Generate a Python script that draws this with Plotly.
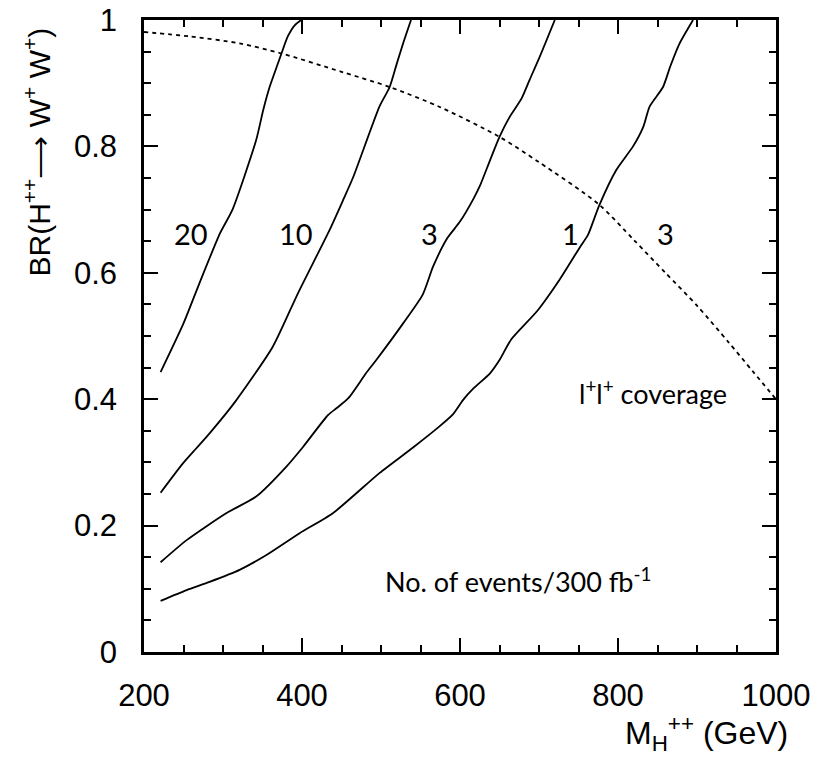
import plotly.graph_objects as go

# ---- data ----
m20 = [221, 250, 270, 296, 312, 342, 351, 359, 368, 374, 382, 391, 399]
br20 = [0.443, 0.52, 0.583, 0.662, 0.70, 0.81, 0.858, 0.894, 0.926, 0.947, 0.974, 0.992, 1.0]

m10 = [221, 249, 266, 283, 316, 363, 395, 435, 452, 465, 498, 511, 520, 528, 538]
br10 = [0.252, 0.298, 0.322, 0.346, 0.397, 0.483, 0.568, 0.668, 0.715, 0.752, 0.863, 0.894, 0.931, 0.963, 1.0]

m3 = [221, 254, 304, 342, 380, 401, 433, 444, 459, 481, 494, 528, 553, 566, 584, 600, 617, 625,
      638, 650, 663, 678, 688, 701, 720]
br3 = [0.142, 0.177, 0.2195, 0.246, 0.293, 0.324, 0.375, 0.386, 0.402, 0.441, 0.462, 0.52, 0.566, 0.61,
       0.655, 0.681, 0.717, 0.737, 0.778, 0.815, 0.847, 0.876, 0.905, 0.942, 1.0]

m1 = [221, 254, 283, 321, 355, 397, 439, 498, 541, 574, 591, 604, 617, 638, 650, 665, 698, 726, 752,
      762, 776, 798, 819, 832, 840, 857, 866, 878, 895]
br1 = [0.081, 0.098, 0.111, 0.13, 0.1535, 0.188, 0.2195, 0.283, 0.324, 0.357, 0.376, 0.399, 0.417,
       0.441, 0.462, 0.495, 0.54, 0.589, 0.641, 0.66, 0.706, 0.763, 0.80, 0.831, 0.863, 0.894, 0.926,
       0.963, 1.0]

m_cov = [200, 258, 321, 374, 450, 511, 575, 650, 700, 776, 820, 860, 900, 940, 970, 1000]
br_cov = [0.981, 0.974, 0.963, 0.947, 0.918, 0.894, 0.862, 0.815, 0.775, 0.708, 0.652, 0.600, 0.548,
          0.490, 0.445, 0.40]

contour_labels = ["20", "10", "3", "1", "3"]
label_m = [260, 393, 561, 740, 860]
label_br = [0.6625] * 5

fig = go.Figure()
for xs, ys in [(m20, br20), (m10, br10), (m3, br3), (m1, br1)]:
    fig.add_trace(go.Scatter(x=xs, y=ys, mode="lines",
                             line=dict(color="black", width=1.8, shape="spline", smoothing=0.6),
                             showlegend=False, hoverinfo="skip"))
fig.add_trace(go.Scatter(x=m_cov, y=br_cov, mode="lines",
                         line=dict(color="black", width=1.8, dash="4px,4px", shape="spline", smoothing=0.8),
                         showlegend=False, hoverinfo="skip"))

ann_font = dict(family="Lato, Noto Sans, sans-serif", size=29, color="black")
for t, xv, yv in zip(contour_labels, label_m, label_br):
    fig.add_annotation(x=xv, y=yv, text=t, showarrow=False, font=ann_font,
                       xanchor="center", yanchor="middle")

fig.add_annotation(x=844, y=0.412, text="l<sup>+</sup>l<sup>+</sup> coverage", showarrow=False,
                   font=dict(ann_font, size=27), xanchor="center", yanchor="middle")
fig.add_annotation(x=674, y=0.114, text="No. of events/300 fb<sup>-1</sup>", showarrow=False,
                   font=dict(ann_font, size=27), xanchor="center", yanchor="middle")

# axis titles
title_font = dict(family="Liberation Sans, Arial, sans-serif", size=32, color="black")
fig.add_annotation(xref="paper", yref="paper", x=(790 - 144) / 632, y=-(733 - 652) / 632,
                   text="M<sub>H</sub><sup>++</sup> (GeV)", showarrow=False, font=title_font,
                   xanchor="right", yanchor="middle")
fig.add_annotation(xref="paper", yref="paper", x=(37 - 144) / 632, y=(652 - 26) / 632,
                   text="BR(H<sup>++</sup>\u27f6 W<sup>+</sup> W<sup>+</sup>)", showarrow=False,
                   font=dict(title_font, size=30), textangle=-90, xanchor="center", yanchor="top")

axis_common = dict(showline=True, linecolor="black", linewidth=2.5, mirror="allticks",
                   ticks="inside", ticklen=14, tickwidth=2, tickcolor="black",
                   showgrid=False, zeroline=False, automargin=False, ticklabeloverflow="allow",
                   tickfont=dict(family="Liberation Sans, Arial, sans-serif", size=31, color="black"))
fig.update_xaxes(range=[200, 1000], tickvals=[200, 400, 600, 800, 1000],
                 ticktext=["200", "400", "600", "800", "1000"],
                 minor=dict(ticks="inside", ticklen=7, tickwidth=2, tickcolor="black", dtick=50, tick0=200),
                 ticklabelstandoff=14, **axis_common)
fig.update_yaxes(range=[0, 1], tickvals=[0, 0.2, 0.4, 0.6, 0.8, 1.0],
                 ticktext=["0", "0.2", "0.4", "0.6", "0.8", "1"],
                 minor=dict(ticks="inside", ticklen=7, tickwidth=2, tickcolor="black", dtick=0.05, tick0=0),
                 ticklabelstandoff=18, **axis_common)

fig.update_layout(width=826, height=758, margin=dict(l=144, r=50, t=20, b=106),
                  plot_bgcolor="white", paper_bgcolor="white")
# remove the default 8px page margin so the figure sits at the window's corner
fig.write_html("out.html", config={"displayModeBar": False},
               post_script="document.body.style.margin='0';document.body.style.overflow='hidden';")
